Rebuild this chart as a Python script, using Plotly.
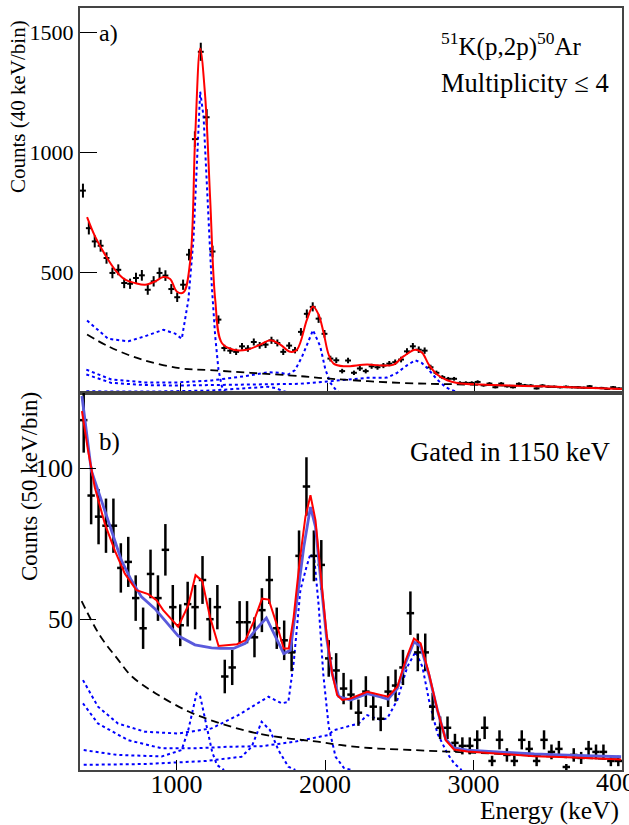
import numpy as np
import plotly.graph_objects as go

# ---------------- Panel a data (40 keV bins) ----------------
a_E = list(range(340, 4000, 40))
a_counts = [841, 685, 630, 612, 561, 499, 512, 457, 454, 478, 489, 429, 464, 499, 488, 432, 398, 450,
            575, 1055, 1418, 1146, 588, 305, 187, 176, 171, 194, 185, 212, 198, 201, 219, 208, 171, 197,
            178, 254, 329, 358, 309, 246, 143, 136, 91, 135, 84, 102, 91, 111, 107, 114, 122, 128, 139,
            173, 194, 180, 176, 107, 84, 66, 59, 59, 42, 42, 42, 46, 32, 39, 24, 39, 28, 24, 38, 32,
            31, 19, 31, 26, 26, 24, 26, 24, 24, 22, 28, 21, 21, 17, 24, 19]

# total fit (red), panel a
a_fit_E = [368, 422, 490, 558, 626, 694, 762, 830, 886, 932, 977, 1022, 1068, 1102, 1136, 1170, 1204,
           1238, 1283, 1362, 1453, 1544, 1612, 1680, 1748, 1793, 1861, 1902, 1940, 1974, 2008, 2042,
           2110, 2269, 2382, 2450, 2518, 2597, 2643, 2688, 2745, 2813, 2881, 3040, 3450, 4000]
a_fit = [731, 651, 575, 512, 471, 457, 450, 464, 482, 474, 422, 418, 547, 1066, 1432, 1232, 803,
         388, 208, 180, 180, 201, 219, 201, 171, 180, 305, 360, 326, 250, 160, 122,
         111, 118, 114, 118, 153, 180, 167, 118, 77, 53, 42, 35, 28, 17]

# background (black dashed), panel a
a_bg_E = [368, 512, 739, 1000, 1200, 1476, 1816, 1940, 2495, 2958, 3450, 4000]
a_bg = [243, 194, 139, 103, 95, 84, 70, 63, 42, 35, 27, 17]

# response components (blue dotted), panel a
a_c1150_E = [368, 512, 648, 762, 886, 966, 1011, 1056, 1090, 1136, 1159, 1170, 1192, 1215, 1238, 1260, 1283, 1306, 1330]
a_c1150 = [301, 225, 215, 236, 263, 247, 225, 388, 637, 1252, 1149, 997, 720, 443, 236, 98, 28, 5, 0]

a_c1900_E = [363, 533, 760, 986, 1212, 1440, 1598, 1680, 1734, 1780, 1827, 1861, 1902, 1951, 1986, 2020, 2065, 2100]
a_c1900 = [97, 56, 44, 44, 52, 70, 86, 84, 77, 95, 150, 200, 261, 194, 98, 42, 7, 0]

a_c2600_E = [363, 533, 760, 986, 1212, 1500, 1800, 2000, 2269, 2405, 2473, 2540, 2597, 2640, 2677, 2745, 2800, 2835, 2900]
a_c2600 = [77, 42, 33, 31, 33, 36, 38, 48, 63, 64, 84, 115, 136, 125, 104, 56, 25, 14, 0]

a_c1600_E = [363, 800, 1200, 1450, 1598, 1650, 1700, 1750]
a_c1600 = [7, 6, 10, 20, 26, 20, 8, 0]

# ---------------- Panel b data (50 keV bins) ----------------
b_E = list(range(375, 4000, 50))
b_counts = [116, 91, 84, 81, 81, 67, 69, 57, 47, 65, 57, 73, 54, 48, 55, 54, 63, 50, 54, 31, 34, 49,
            49, 44, 53, 63, 47, 43, 39, 71, 94, 71, 68, 37, 33, 27, 25, 19, 26, 21, 17, 26, 28, 34,
            52, 39, 39, 21, 14, 14, 9, 8, 8, 10, 14, 3, 10, 5, 3, 10, 7, 3, 10, 6, 7, 1, 5, 4, 7, 6, 6, 3, 3]

b_fit_E = [363, 404, 449, 517, 584, 652, 730, 809, 865, 910, 1011, 1079, 1128, 1173, 1225, 1259, 1283,
           1407, 1463, 1519, 1576, 1621, 1673, 1722, 1756, 1789, 1830, 1868, 1902, 1936, 1969, 2010,
           2048, 2082, 2116, 2172, 2284, 2374, 2424, 2487, 2543, 2599, 2644, 2700, 2757, 2813, 2869,
           2959, 3184, 3409, 3634, 3994]
b_fit = [119, 106, 93.8, 81.7, 72.8, 65.1, 59.6, 58.3, 56.3, 53, 47.5, 54.6, 64.6, 62.7, 50.8, 45.3, 41.1,
         41.7, 43, 49.1, 56.8, 56.5, 48.6, 40.3, 40.3, 50.8, 69.5, 83.9, 91.1, 82.8, 66.2, 45.3,
         32, 24.8, 23.2, 23.7, 25.9, 24.8, 24.3, 27.6, 36.4, 43.6, 42, 32, 19.9, 9.9, 6.8,
         6.1, 5.3, 4.6, 4.2, 3.5]

b_alt_E = [363, 426, 494, 561, 629, 696, 764, 854, 922, 1011, 1124, 1236, 1295, 1384, 1463, 1531, 1605,
           1666, 1722, 1767, 1812, 1857, 1902, 1936, 1969, 2010, 2048, 2093, 2172, 2284, 2374, 2424,
           2487, 2543, 2599, 2644, 2700, 2757, 2813, 2869, 2959, 3184, 3409, 3634, 3994]
b_alt = [124, 99.3, 89.4, 79.5, 69.5, 62.9, 57.4, 53.5, 49.7, 44.5, 41.5, 40.5, 40.3, 40.3, 42, 46.4, 50.4,
         44.1, 38.6, 39.7, 56.3, 73.9, 87.2, 80.6, 64, 44.1, 32, 24.3, 23.2, 25.3, 24.2, 23.5,
         27, 35.6, 42.5, 41, 31.5, 19.8, 10.2, 7.3, 6.6, 5.9, 5.3, 4.9, 4.4]

b_bg_E = [361, 485, 600, 700, 860, 1085, 1300, 1520, 1750, 1950, 2100, 2300, 2509, 2824, 3184, 3634, 4000]
b_bg = [56, 44.5, 37, 31, 25.4, 19.3, 15.4, 12.4, 10.5, 9.4, 8.3, 7.3, 6.8, 6.1, 5.3, 4.2, 3.5]

b_c1900_E = [370, 471, 606, 787, 1011, 1236, 1416, 1619, 1708, 1753, 1790, 1834, 1875, 1902, 1929, 1958, 1988, 2025, 2071, 2127, 2180]
b_c1900 = [29.8, 21, 15.4, 12.7, 12.1, 13.8, 18.2, 24.3, 22.1, 22.6, 36, 59.6, 67.3, 71.7, 69.5, 54.1, 32, 14.3, 4.4, 0.7, 0]

b_c2600_E = [370, 471, 674, 899, 1124, 1349, 1573, 1799, 2023, 2059, 2226, 2284, 2374, 2419, 2487, 2554, 2610, 2656, 2700, 2757, 2824, 2869, 2920]
b_c2600 = [22.1, 15.4, 9.9, 7.2, 7.2, 7.7, 7.9, 9.4, 11.6, 13.2, 15.4, 18.2, 16.6, 17.1, 23.2, 34.2, 39.2, 34.2, 23.2, 12.1, 5.5, 2.2, 0]

b_c1150_E = [375, 600, 900, 1034, 1079, 1135, 1160, 1205, 1240, 1272, 1320]
b_c1150 = [6.6, 5, 4.5, 6.6, 13.2, 25.4, 24.3, 14.3, 6, 1.7, 0]

b_c1600_E = [375, 800, 1200, 1438, 1506, 1573, 1630, 1686, 1753, 1800]
b_c1600 = [1.7, 2, 3, 4.4, 7.7, 16, 13.2, 6.6, 1.1, 0]

b_xticks = [1000, 2000, 3000, 4000]

# ---------------- Figure ----------------
FONT = "Liberation Serif, Times New Roman, serif"
BLUE = "#0000ff"
fig = go.Figure()

def data_trace(E, counts, half, xa, ya, thick):
    c = np.array(counts, dtype=float)
    return go.Scatter(x=E, y=c, mode="markers", xaxis=xa, yaxis=ya,
                      marker=dict(size=1, color="black"),
                      error_y=dict(type="data", array=np.sqrt(c), width=0, thickness=thick, color="black"),
                      error_x=dict(type="data", array=[half] * len(E), width=0, thickness=thick, color="black"),
                      showlegend=False, hoverinfo="skip")

def line(E, v, xa, ya, color, width, dash="solid", shape="linear"):
    return go.Scatter(x=E, y=v, mode="lines", xaxis=xa, yaxis=ya,
                      line=dict(color=color, width=width, dash=dash, shape=shape),
                      showlegend=False, hoverinfo="skip")

DOT = "3px,3px"
DASH = "8px,5px"
# panel a
for E, v in [(a_c1150_E, a_c1150), (a_c1900_E, a_c1900), (a_c2600_E, a_c2600), (a_c1600_E, a_c1600)]:
    fig.add_trace(line(E, v, "x", "y", BLUE, 2, DOT))
fig.add_trace(line(a_bg_E, a_bg, "x", "y", "black", 1.8, DASH, "spline"))
fig.add_trace(data_trace(a_E, a_counts, 20, "x", "y", 2))
fig.add_trace(line(a_fit_E, a_fit, "x", "y", "#ff0000", 2, "solid", "spline"))
# panel b
for E, v in [(b_c1150_E, b_c1150), (b_c1900_E, b_c1900), (b_c2600_E, b_c2600), (b_c1600_E, b_c1600)]:
    fig.add_trace(line(E, v, "x2", "y2", BLUE, 2, DOT))
fig.add_trace(line(b_bg_E, b_bg, "x2", "y2", "black", 1.8, DASH, "spline"))
fig.add_trace(data_trace(b_E, b_counts, 25, "x2", "y2", 2.5))
fig.add_trace(line(b_alt_E, b_alt, "x2", "y2", "#5a5adc", 2.8))
fig.add_trace(line(b_fit_E, b_fit, "x2", "y2", "#ff0000", 2))

split = 377 / 762
frame = dict(showline=True, mirror=True, linecolor="#444444", linewidth=2, showgrid=False,
             zeroline=False, ticks="inside", tickcolor="black", tickwidth=1, automargin=False)
fig.update_layout(
    width=629, height=825, margin=dict(l=80, r=7, t=8, b=55, autoexpand=False),
    paper_bgcolor="white", plot_bgcolor="white",
    font=dict(family=FONT, color="black"),
    xaxis=dict(range=[320, 4000], anchor="y", tickvals=[1000, 2000, 3000], ticklen=10,
               showticklabels=False, **frame),
    yaxis=dict(range=[0, 1600], domain=[split, 1], anchor="x", tickvals=[500, 1000, 1500],
               ticklen=17, tickfont=dict(size=22), **frame),
    xaxis2=dict(range=[350, 4000], anchor="y2", tickvals=b_xticks, ticklen=10,
                tickfont=dict(size=26), ticklabelstandoff=-10, **frame),
    yaxis2=dict(range=[0, 125], domain=[0, split], anchor="x2", tickvals=[50, 100],
                ticklen=16, tickfont=dict(size=25), **frame),
)

def px(x):
    return (x - 80) / 542

def py(y):
    return (770 - y) / 762

ann = [
    dict(text="Counts (40 keV/bin)", x=px(18), y=py(107), textangle=-90, font=dict(size=21)),
    dict(text="Counts (50 keV/bin)", x=px(29), y=py(487), textangle=-90, font=dict(size=23)),
    dict(text="a)", x=px(97), y=py(33), xanchor="left", font=dict(size=24)),
    dict(text="<sup>51</sup>K(p,2p)<sup>50</sup>Ar", x=px(439), y=py(44), xanchor="left", font=dict(size=25)),
    dict(text="Multiplicity ≤ 4", x=px(439), y=py(83), xanchor="left", font=dict(size=26.5)),
    dict(text="b)", x=px(97), y=py(442), xanchor="left", font=dict(size=25)),
    dict(text="Gated in 1150 keV", x=px(408), y=py(452), xanchor="left", font=dict(size=26.5)),
    dict(text="Energy (keV)", x=px(621), y=py(810), xanchor="right", font=dict(size=25.5)),
    # last x tick label of panel b, partly cut by the page edge as in the original
    dict(text=str(b_xticks[-1]), x=b_xticks[-1], xref="x2", y=py(783), font=dict(size=26)),
]
for a in ann:
    a.setdefault("xanchor", "center")
    a.setdefault("xref", "paper")
    a.update(yref="paper", yanchor="middle", showarrow=False)
fig.update_layout(annotations=ann)

fig.write_html("out.html")
